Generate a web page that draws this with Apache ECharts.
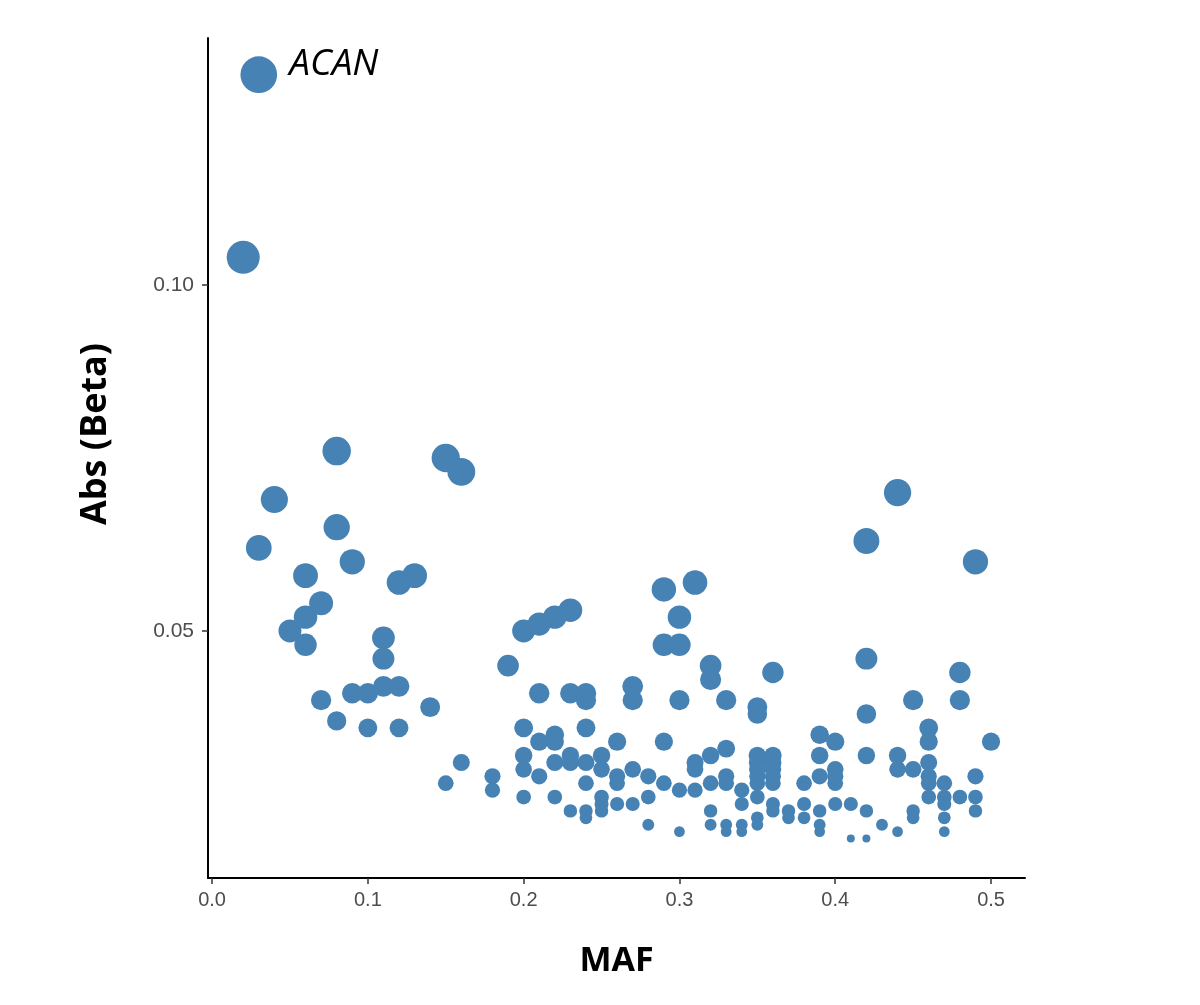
<!DOCTYPE html>
<html>
<head>
<meta charset="utf-8">
<style>
  html, body { margin: 0; padding: 0; background: #ffffff; }
  #chart { width: 1200px; height: 1005px; }
</style>
<script src="https://cdn.jsdelivr.net/npm/echarts@6/dist/echarts.min.js"></script>
</head>
<body>
<div id="chart"></div>
<script>
// ---- data ----
const maf = [
  0.02,
  0.03, 0.03,
  0.04,
  0.05,
  0.06, 0.06, 0.06,
  0.07, 0.07,
  0.08, 0.08, 0.08,
  0.09, 0.09,
  0.10, 0.10,
  0.11, 0.11, 0.11,
  0.12, 0.12, 0.12,
  0.13,
  0.14,
  0.15, 0.15,
  0.16, 0.16,
  0.18, 0.18,
  0.19,
  0.20, 0.20, 0.20, 0.20, 0.20,
  0.21, 0.21, 0.21, 0.21,
  0.22, 0.22, 0.22, 0.22, 0.22,
  0.23, 0.23, 0.23, 0.23, 0.23,
  0.24, 0.24, 0.24, 0.24, 0.24, 0.24, 0.24,
  0.25, 0.25, 0.25, 0.25, 0.25,
  0.26, 0.26, 0.26, 0.26,
  0.27, 0.27, 0.27, 0.27,
  0.28, 0.28, 0.28,
  0.29, 0.29, 0.29, 0.29,
  0.30, 0.30, 0.30, 0.30, 0.30,
  0.31, 0.31, 0.31, 0.31,
  0.32, 0.32, 0.32, 0.32, 0.32, 0.32,
  0.33, 0.33, 0.33, 0.33, 0.33, 0.33,
  0.34, 0.34, 0.34, 0.34,
  0.35, 0.35, 0.35, 0.35, 0.35, 0.35, 0.35, 0.35, 0.35, 0.35,
  0.36, 0.36, 0.36, 0.36, 0.36, 0.36, 0.36, 0.36,
  0.37, 0.37,
  0.38, 0.38, 0.38,
  0.39, 0.39, 0.39, 0.39, 0.39, 0.39,
  0.40, 0.40, 0.40, 0.40, 0.40,
  0.41, 0.41,
  0.42, 0.42, 0.42, 0.42, 0.42, 0.42,
  0.43,
  0.44, 0.44, 0.44, 0.44,
  0.45, 0.45, 0.45, 0.45,
  0.46, 0.46, 0.46, 0.46, 0.46, 0.46,
  0.47, 0.47, 0.47, 0.47, 0.47,
  0.48, 0.48, 0.48,
  0.49, 0.49, 0.49, 0.49,
  0.50
];
const absBeta = [
  0.104,
  0.1304, 0.062,
  0.069,
  0.050,
  0.058, 0.052, 0.048,
  0.054, 0.040,
  0.076, 0.065, 0.037,
  0.060, 0.041,
  0.041, 0.036,
  0.049, 0.046, 0.042,
  0.057, 0.042, 0.036,
  0.058,
  0.039,
  0.075, 0.028,
  0.073, 0.031,
  0.029, 0.027,
  0.045,
  0.050, 0.036, 0.032, 0.030, 0.026,
  0.051, 0.041, 0.034, 0.029,
  0.052, 0.035, 0.034, 0.031, 0.026,
  0.053, 0.041, 0.032, 0.031, 0.024,
  0.041, 0.040, 0.036, 0.031, 0.028, 0.024, 0.023,
  0.032, 0.030, 0.026, 0.025, 0.024,
  0.034, 0.029, 0.028, 0.025,
  0.042, 0.040, 0.030, 0.025,
  0.029, 0.026, 0.022,
  0.056, 0.048, 0.034, 0.028,
  0.052, 0.048, 0.040, 0.027, 0.021,
  0.057, 0.031, 0.030, 0.027,
  0.045, 0.043, 0.032, 0.028, 0.024, 0.022,
  0.040, 0.033, 0.029, 0.028, 0.022, 0.021,
  0.027, 0.025, 0.022, 0.021,
  0.039, 0.038, 0.032, 0.031, 0.030, 0.029, 0.028, 0.026, 0.023, 0.022,
  0.044, 0.032, 0.031, 0.030, 0.029, 0.028, 0.025, 0.024,
  0.024, 0.023,
  0.028, 0.025, 0.023,
  0.035, 0.032, 0.029, 0.024, 0.022, 0.021,
  0.034, 0.030, 0.029, 0.028, 0.025,
  0.025, 0.020,
  0.063, 0.046, 0.038, 0.032, 0.024, 0.020,
  0.022,
  0.070, 0.032, 0.030, 0.021,
  0.040, 0.030, 0.024, 0.023,
  0.036, 0.034, 0.031, 0.029, 0.028, 0.026,
  0.028, 0.026, 0.025, 0.023, 0.021,
  0.044, 0.040, 0.026,
  0.060, 0.029, 0.026, 0.024,
  0.034
];
const geneLabels = ['ACAN'];
const geneLabelIndex = [1];
const xTicks = [0.0, 0.1, 0.2, 0.3, 0.4, 0.5];
const yTicks = [0.05, 0.10];

// ---- chart ----
const bMin = Math.min(...absBeta);
const bMax = Math.max(...absBeta);
function sizeOf(v) {
  const t = Math.max(0, (v - bMin) / (bMax - bMin));
  return 8 + 28.7 * Math.sqrt(t);
}

const points = maf.map((x, i) => {
  const item = { value: [x, absBeta[i]] };
  const li = geneLabelIndex.indexOf(i);
  if (li >= 0) {
    item.label = {
      show: true,
      formatter: geneLabels[li],
      position: 'right',
      distance: 12,
      offset: [0, -10],
      fontFamily: 'Open Sans',
      fontStyle: 'italic',
      fontSize: 37,
      color: '#000000'
    };
  }
  return item;
});

const chart = echarts.init(document.getElementById('chart'), null, { renderer: 'canvas' });
chart.setOption({
  backgroundColor: '#ffffff',
  animation: false,
  grid: { left: 208, right: 175, top: 38, bottom: 127, containLabel: false },
  xAxis: {
    type: 'value',
    min: -0.0026,
    max: 0.5218,
    name: 'MAF',
    nameLocation: 'middle',
    nameGap: 66,
    nameTextStyle: { fontFamily: 'Open Sans', fontWeight: 'bold', fontSize: 34, color: '#000000' },
    splitLine: { show: false },
    axisLine: { onZero: false, lineStyle: { color: '#000000', width: 2 } },
    axisTick: { show: true, customValues: xTicks, length: 6, lineStyle: { color: '#333333', width: 1.5 } },
    axisLabel: {
      customValues: xTicks,
      formatter: v => v.toFixed(1),
      margin: 12,
      fontFamily: 'Liberation Sans',
      fontSize: 20,
      color: '#4d4d4d'
    }
  },
  yAxis: {
    type: 'value',
    min: 0.0143,
    max: 0.1357,
    name: 'Abs (Beta)',
    nameLocation: 'middle',
    nameGap: 94,
    nameRotate: 90,
    nameTextStyle: {
      fontFamily: 'Open Sans', fontWeight: 'bold', fontSize: 36, color: '#000000',
      padding: [0, 0, 0, 48]
    },
    splitLine: { show: false },
    axisLine: { onZero: false, lineStyle: { color: '#000000', width: 2 } },
    axisTick: { show: true, customValues: yTicks, length: 6, lineStyle: { color: '#333333', width: 1.5 } },
    axisLabel: {
      customValues: yTicks,
      formatter: v => v.toFixed(2),
      margin: 14,
      fontFamily: 'Liberation Sans',
      fontSize: 21,
      color: '#4d4d4d'
    }
  },
  series: [{
    type: 'scatter',
    data: points,
    symbol: 'circle',
    symbolSize: (val) => sizeOf(val[1]),
    itemStyle: { color: '#4682B4', opacity: 1 },
    emphasis: { disabled: true },
    clip: false
  }]
});
</script>
</body>
</html>
